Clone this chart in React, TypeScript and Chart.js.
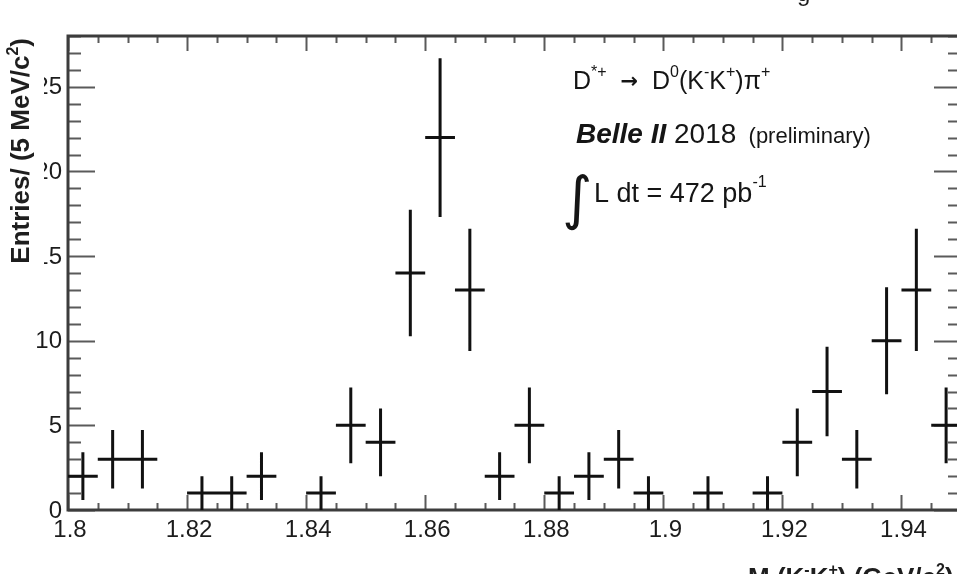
import { useEffect, useRef } from "react";
import { Chart, registerables } from "chart.js";

Chart.register(...registerables);

// Histogram of M(K-K+) in 5 MeV/c^2 bins (empty bins are not drawn)
const binCenters = [
  1.8025, 1.8075, 1.8125, 1.8225, 1.8275, 1.8325, 1.8425, 1.8475, 1.8525,
  1.8575, 1.8625, 1.8675, 1.8725, 1.8775, 1.8825, 1.8875, 1.8925, 1.8975,
  1.9075, 1.9175, 1.9225, 1.9275, 1.9325, 1.9375, 1.9425, 1.9475,
];
const entries = [
  2, 3, 3, 1, 1, 2, 1, 5, 4, 14, 22, 13, 2, 5, 1, 2, 3, 1, 1, 1, 4, 7, 3, 10,
  13, 5,
];
const entryErrors = [
  1.41, 1.73, 1.73, 1, 1, 1.41, 1, 2.24, 2, 3.74, 4.69, 3.61, 1.41, 2.24, 1,
  1.41, 1.73, 1, 1, 1, 2, 2.65, 1.73, 3.16, 3.61, 2.24,
];
const binWidth = 0.005;

const xMin = 1.8;
const xMax = 1.95;
const yMin = 0;
const yMax = 28;

const xMajorTicks = [1.8, 1.82, 1.84, 1.86, 1.88, 1.9, 1.92, 1.94];
const xTickLabels = ["1.8", "1.82", "1.84", "1.86", "1.88", "1.9", "1.92", "1.94"];
const xMinorStep = 0.005;
const yMajorTicks = [0, 5, 10, 15, 20, 25];
const yTickLabels = ["0", "5", "10", "15", "20", "25"];
const yMinorStep = 1;

const W = 980;
const H = 600;
const FONT = '"Liberation Sans", Arial, Helvetica, sans-serif';
const SYM = '"DejaVu Sans", "Liberation Sans", sans-serif';

type Seg = { t: string; f: string; dy?: number };

function richWidth(ctx: CanvasRenderingContext2D, segs: Seg[]) {
  let w = 0;
  for (const s of segs) {
    ctx.font = s.f;
    w += ctx.measureText(s.t).width;
  }
  return w;
}

function drawRich(
  ctx: CanvasRenderingContext2D,
  segs: Seg[],
  x: number,
  y: number,
  align: "left" | "right" = "left",
) {
  const w = richWidth(ctx, segs);
  let cx = align === "right" ? x - w : x;
  ctx.textAlign = "left";
  ctx.textBaseline = "alphabetic";
  for (const s of segs) {
    ctx.font = s.f;
    ctx.fillText(s.t, cx, y + (s.dy || 0));
    cx += ctx.measureText(s.t).width;
  }
}

const rootStyle = {
  id: "rootStyle",
  beforeDatasetsDraw(chart: any) {
    const ctx: CanvasRenderingContext2D = chart.ctx;
    const { left, right, top, bottom } = chart.chartArea;
    const xs = chart.scales.x;
    const ys = chart.scales.y;
    ctx.save();
    ctx.fillStyle = "#fff";
    ctx.fillRect(0, 0, W, H);

    // ticks on all four sides, pointing inward
    ctx.strokeStyle = "#5a5a5a";
    ctx.lineWidth = 2;
    ctx.beginPath();
    for (let v = xMin; v <= xMax + 1e-9; v += xMinorStep) {
      const isMajor = xMajorTicks.some((m) => Math.abs(m - v) < 1e-6);
      const len = isMajor ? 15 : 7;
      const px = Math.round(xs.getPixelForValue(v)) + 0.5;
      ctx.moveTo(px, bottom);
      ctx.lineTo(px, bottom - len);
      ctx.moveTo(px, top);
      ctx.lineTo(px, top + len);
    }
    for (let v = yMin; v <= yMax + 1e-9; v += yMinorStep) {
      const isMajor = yMajorTicks.includes(v);
      const len = isMajor ? 27 : 13;
      const py = Math.round(ys.getPixelForValue(v)) + 0.5;
      ctx.moveTo(left, py);
      ctx.lineTo(left + len, py);
      ctx.moveTo(right, py);
      ctx.lineTo(right - len, py);
    }
    ctx.stroke();

    // frame
    ctx.strokeStyle = "#3c3c3c";
    ctx.lineWidth = 3;
    ctx.strokeRect(left, top, right - left, bottom - top);
    ctx.restore();
  },
  afterDatasetsDraw(chart: any) {
    const ctx: CanvasRenderingContext2D = chart.ctx;
    const xs = chart.scales.x;
    const ys = chart.scales.y;
    ctx.save();
    ctx.strokeStyle = "#111";
    ctx.lineWidth = 3;
    ctx.lineCap = "butt";
    ctx.beginPath();
    binCenters.forEach((c, i) => {
      const v = entries[i];
      const e = entryErrors[i];
      const px = xs.getPixelForValue(c);
      const py = ys.getPixelForValue(v);
      ctx.moveTo(xs.getPixelForValue(c - binWidth / 2), py);
      ctx.lineTo(xs.getPixelForValue(c + binWidth / 2), py);
      ctx.moveTo(px, ys.getPixelForValue(Math.max(yMin, v - e)));
      ctx.lineTo(px, ys.getPixelForValue(v + e));
    });
    ctx.stroke();
    ctx.restore();
  },
  afterDraw(chart: any) {
    const ctx: CanvasRenderingContext2D = chart.ctx;
    const xs = chart.scales.x;
    const ys = chart.scales.y;
    const { left, bottom } = chart.chartArea;
    ctx.save();
    ctx.fillStyle = "#1c1c1c";

    // tick labels
    ctx.font = `24px ${FONT}`;
    ctx.textAlign = "center";
    ctx.textBaseline = "alphabetic";
    xMajorTicks.forEach((v, i) => {
      ctx.fillText(xTickLabels[i], xs.getPixelForValue(v) + 2, bottom + 27);
    });
    ctx.textAlign = "right";
    ctx.textBaseline = "middle";
    yMajorTicks.forEach((v, i) => {
      ctx.fillText(yTickLabels[i], left - 6, ys.getPixelForValue(v) + 1);
    });

    // y-axis title on a white backing
    ctx.fillStyle = "#fff";
    ctx.fillRect(0, 36, 44, 232);
    ctx.fillStyle = "#1e1e1e";
    const bold = `bold 26px ${FONT}`;
    const boldSup = `bold 16px ${FONT}`;
    ctx.save();
    ctx.translate(29, 38);
    ctx.rotate(-Math.PI / 2);
    drawRich(
      ctx,
      [
        { t: "Entries/ (5 MeV/c", f: bold },
        { t: "2", f: boldSup, dy: -11 },
        { t: ")", f: bold },
      ],
      0,
      0,
      "right",
    );
    ctx.restore();

    // x-axis title
    drawRich(
      ctx,
      [
        { t: "M (K", f: bold },
        { t: "-", f: boldSup, dy: -11 },
        { t: "K", f: bold },
        { t: "+", f: boldSup, dy: -11 },
        { t: ") (GeV/c", f: bold },
        { t: "2", f: boldSup, dy: -11 },
        { t: ")", f: bold },
      ],
      748,
      586,
    );

    // fragment of the caption above the frame
    ctx.font = `24px ${FONT}`;
    ctx.textAlign = "left";
    ctx.textBaseline = "alphabetic";
    ctx.fillText("g", 797, 1);

    // annotation block
    ctx.fillStyle = "#151515";
    const reg = `25px ${FONT}`;
    const sup = `16px ${FONT}`;
    drawRich(
      ctx,
      [
        { t: "D", f: reg },
        { t: "*+", f: sup, dy: -12 },
        { t: "  ", f: reg },
        { t: "\u2192", f: `bold 21px ${SYM}`, dy: -1 },
        { t: "  D", f: reg },
        { t: "0", f: sup, dy: -12 },
        { t: "(K", f: reg },
        { t: "-", f: sup, dy: -12 },
        { t: "K", f: reg },
        { t: "+", f: sup, dy: -12 },
        { t: ")\u03c0", f: reg },
        { t: "+", f: sup, dy: -12 },
      ],
      573,
      89,
    );
    drawRich(
      ctx,
      [
        { t: "Belle II", f: `italic bold 28px ${FONT}` },
        { t: " 2018", f: `28px ${FONT}` },
        { t: "  (preliminary)", f: `22px ${FONT}` },
      ],
      576,
      143,
    );
    drawRich(ctx, [{ t: "\u222b", f: `58px ${SYM}` }], 562, 218);
    drawRich(
      ctx,
      [
        { t: "L dt = 472 pb", f: `27px ${FONT}` },
        { t: "-1", f: sup, dy: -15 },
      ],
      594,
      202,
    );
    ctx.restore();
  },
};

export default function App() {
  const ref = useRef<HTMLCanvasElement | null>(null);

  useEffect(() => {
    const canvas = ref.current;
    if (!canvas) return;
    const chart = new Chart(canvas, {
      type: "scatter",
      data: {
        datasets: [
          {
            data: binCenters.map((x, i) => ({ x, y: entries[i] })),
            pointRadius: 0,
            showLine: false,
          },
        ],
      },
      options: {
        animation: false,
        responsive: false,
        devicePixelRatio: 1,
        events: [],
        layout: { padding: { left: 68, top: 36, right: W - 961, bottom: H - 510 } },
        plugins: { legend: { display: false }, tooltip: { enabled: false } },
        scales: {
          x: { type: "linear", min: xMin, max: xMax, display: false },
          y: { type: "linear", min: yMin, max: yMax, display: false },
        },
      },
      plugins: [rootStyle as any],
    });
    return () => chart.destroy();
  }, []);

  return (
    <div
      style={{
        position: "fixed",
        left: 0,
        top: 0,
        width: 957,
        height: 574,
        overflow: "hidden",
        background: "#fff",
      }}
    >
      <canvas ref={ref} width={W} height={H} style={{ display: "block" }} />
    </div>
  );
}
